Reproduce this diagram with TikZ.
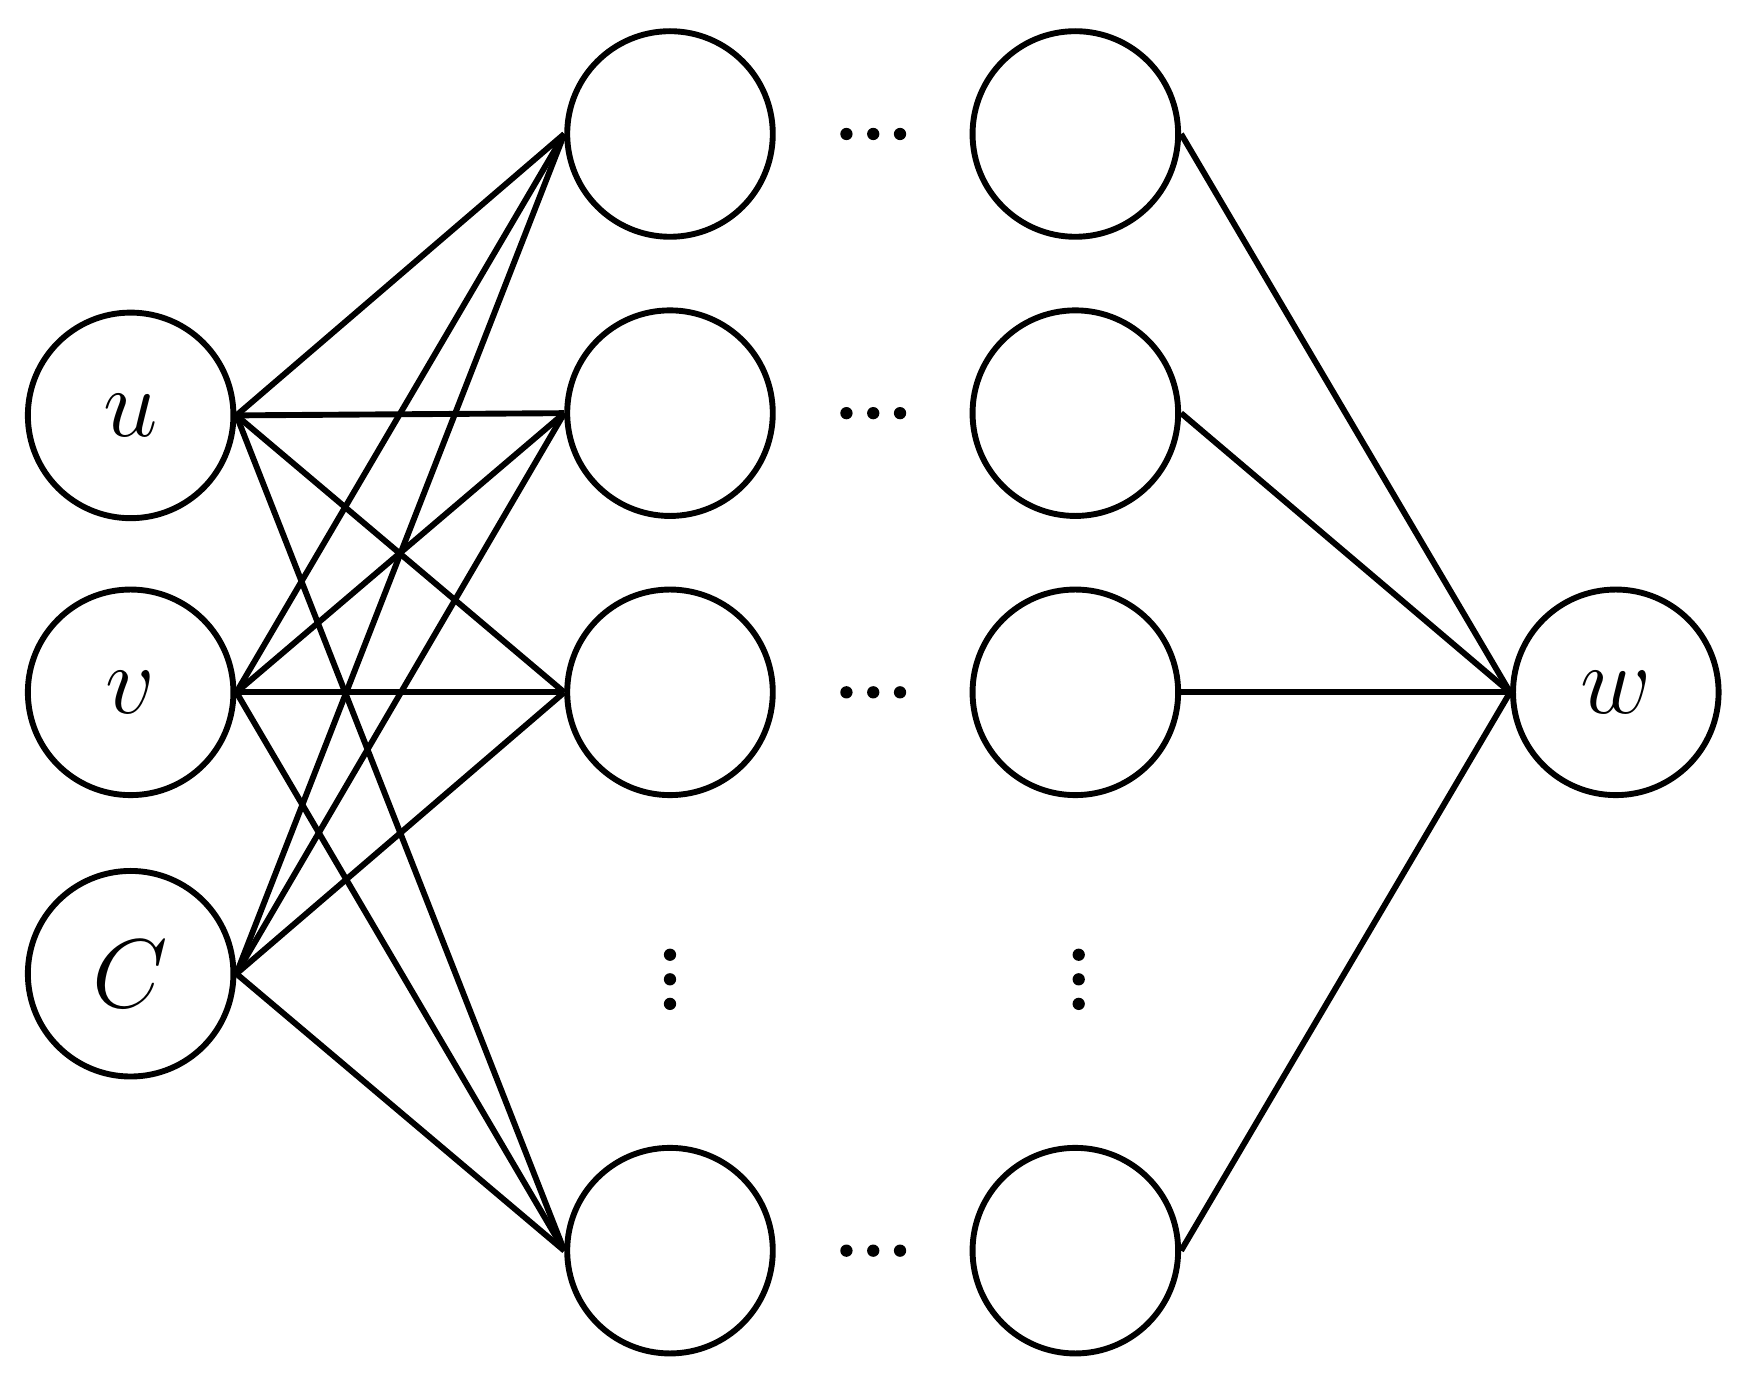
\documentclass[tikz,border=0pt]{standalone}
\begin{document}
\begin{tikzpicture}[x=0.01cm,y=-0.01cm,
  neuron/.style={circle,draw,line width=1.5pt,minimum size=1.84cm,inner sep=0pt,font=\fontsize{26}{26}\selectfont},
  edge/.style={line width=1.5pt},
  dot/.style={fill,circle,inner sep=0pt,minimum size=0.11cm}]
\useasboundingbox (0,0) rectangle (1560,1237);
\node[neuron] (u) at (117,372) {$u$};
\node[neuron] (v) at (117,620) {$v$};
\node[neuron] (c) at (117,872) {$C$};
\foreach \i/\y in {1/120,2/370,3/620,4/1120}{
  \node[neuron] (m\i) at (600,\y) {};
  \node[neuron] (n\i) at (963,\y) {};
  \foreach \dx in {758,782,806} \node[dot] at (\dx,\y) {};
}
\node[neuron] (w) at (1447,620) {$w$};
\foreach \dy in {855,877,899} {\node[dot] at (600,\dy) {}; \node[dot] at (966,\dy) {};}
\foreach \s in {u,v,c} \foreach \i in {1,2,3,4} \draw[edge] (\s.east) -- (m\i.west);
\foreach \i in {1,2,3,4} \draw[edge] (n\i.east) -- (w.west);
\end{tikzpicture}
\end{document}
